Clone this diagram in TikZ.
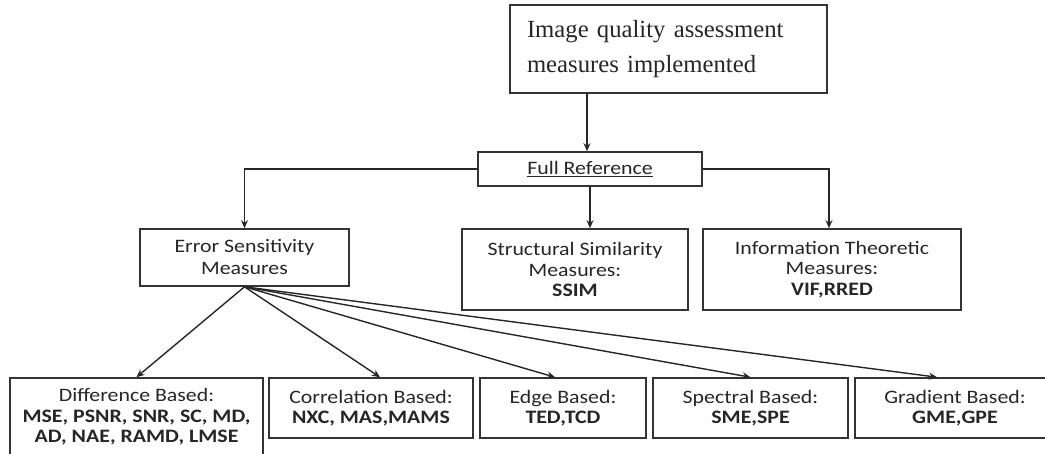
\documentclass[tikz,border=0pt]{standalone}
\usepackage{fontspec}
\setmainfont{Carlito}[FakeStretch=1.15]
\newfontfamily\titlefont{Liberation Serif}
\usetikzlibrary{arrows.meta,positioning,calc}
\tikzset{
  box/.style={draw=black!80, line width=1.6pt, align=center, inner sep=0pt,
    font=\fontsize{19}{20.5}\selectfont, text=black!85},
  conn/.style={line width=1.4pt, draw=black!85, -{Stealth[length=8pt,width=7pt]}},
}
\begin{document}
\begin{tikzpicture}[x=1pt,y=-1pt]
\useasboundingbox (0,0) rectangle (1045,454);
\node[box, minimum width=317pt, minimum height=88pt, text width=283pt, align=left,
  font=\titlefont\fontsize{24.7}{35}\selectfont] (top) at (668.5,49)
  {Image quality assessment\\measures implemented};
\node[box, minimum width=224pt, minimum height=34pt] (fr) at (590,169) {\underline{Full Reference}};
\node[box, minimum width=209pt, minimum height=57pt, font=\fontsize{19}{22}\selectfont] (es) at (244.5,257.5) {Error Sensitivity\\Measures};
\node[box, minimum width=226pt, minimum height=81pt] (ss) at (575,269.5) {Structural Similarity\\Measures:\\\textbf{SSIM}};
\node[box, minimum width=258pt, minimum height=81pt] (it) at (832,269.5) {Information Theoretic\\Measures:\\\textbf{VIF,RRED}};
\node[box, minimum width=253pt, minimum height=78pt] (diff) at (136.5,417) {Difference Based:\\\textbf{MSE, PSNR, SNR, SC, MD,}\\\textbf{AD, NAE, RAMD, LMSE}};
\node[box, minimum width=204pt, minimum height=60pt] (corr) at (371,408) {Correlation Based:\\\textbf{NXC, MAS,MAMS}};
\node[box, minimum width=166pt, minimum height=60pt] (edge) at (563,408) {Edge Based:\\\textbf{TED,TCD}};
\node[box, minimum width=195pt, minimum height=60pt] (spec) at (750.5,408) {Spectral Based:\\\textbf{SME,SPE}};
\node[box, minimum width=200pt, minimum height=60pt] (grad) at (955,408) {Gradient Based:\\\textbf{GME,GPE}};
\draw[conn] ([xshift=-81.5pt]top.south) -- ([xshift=-3pt]fr.north);
\draw[conn] (fr.west) -| (es.north);
\draw[conn] (fr.south) -- ([xshift=15pt]ss.north);
\draw[conn] (fr.east) -| ([xshift=-3pt]it.north);
\draw[conn] (es.south) -- (diff.north);
\draw[conn] (es.south) -- ([xshift=9pt]corr.north);
\draw[conn] (es.south) -- ([xshift=-8pt]edge.north);
\draw[conn] (es.south) -- (spec.north);
\draw[conn] (es.south) -- ([xshift=-18pt]grad.north);
\end{tikzpicture}
\end{document}
